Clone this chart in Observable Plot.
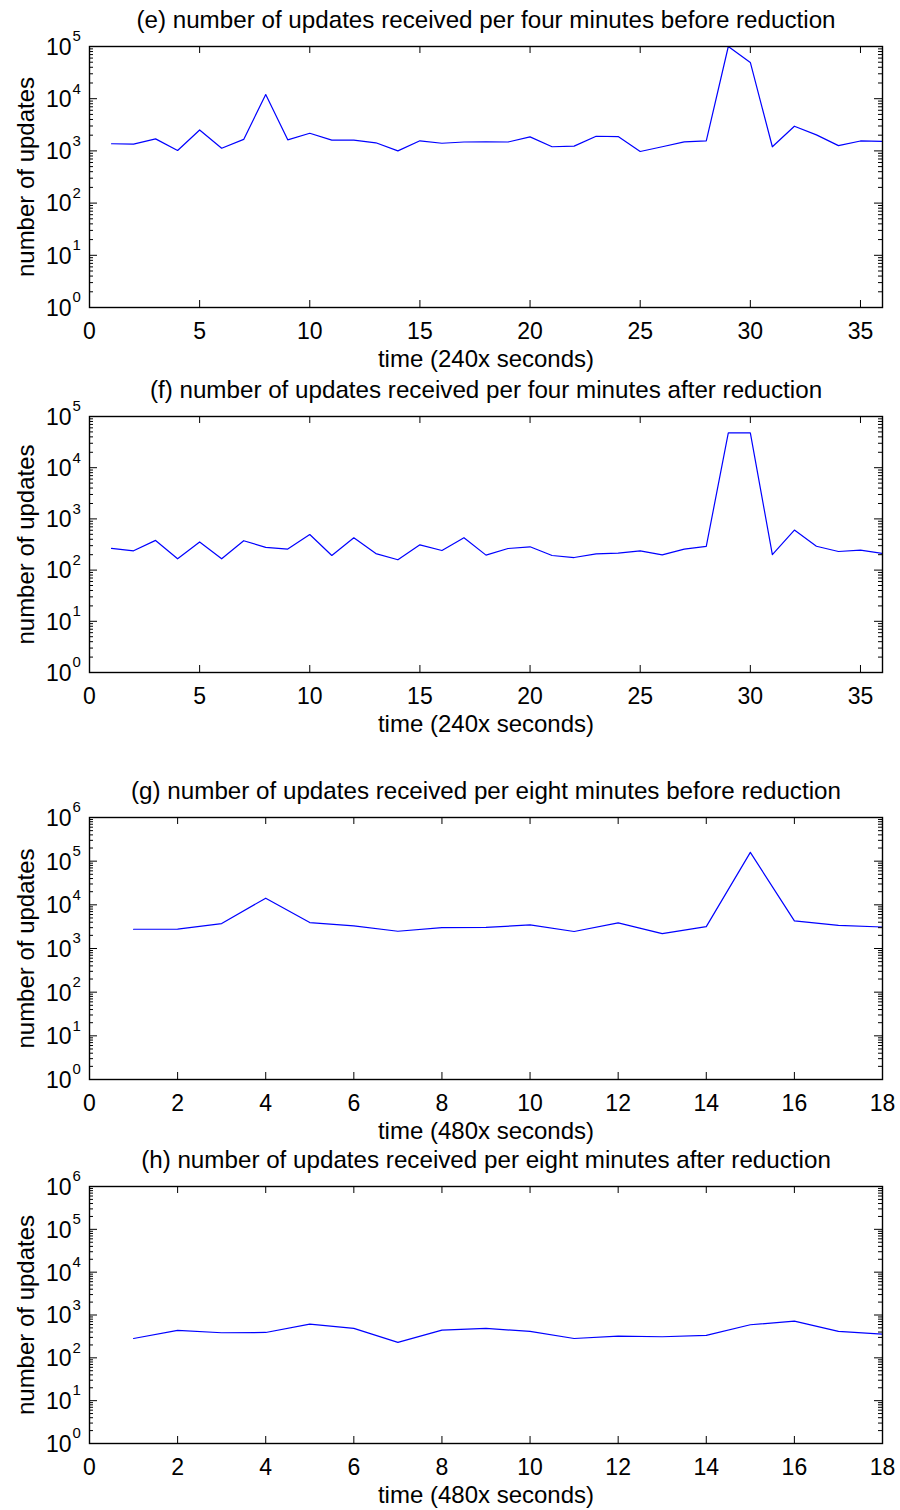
<!DOCTYPE html>
<html><head><meta charset="utf-8">
<script src="https://cdn.jsdelivr.net/npm/d3@7"></script>
<script src="https://cdn.jsdelivr.net/npm/@observablehq/plot@0.6"></script>
<style>
body{margin:0;background:#fff}
#chart{position:relative;width:900px;height:1510px;background:#fff}
#chart svg{position:absolute;left:0}
</style>
</head><body><div id="chart"></div>
<script>
// ---- data ----
const titles = [
  "(e) number of updates received per four minutes before reduction",
  "(f) number of updates received per four minutes after reduction",
  "(g) number of updates received per eight minutes before reduction",
  "(h) number of updates received per eight minutes after reduction"
];
const xLabels = ["time (240x seconds)", "time (240x seconds)", "time (480x seconds)", "time (480x seconds)"];
const yLabel = "number of updates";
const time4 = [1,2,3,4,5,6,7,8,9,10,11,12,13,14,15,16,17,18,19,20,21,22,23,24,25,26,27,28,29,30,31,32,33,34,35,36];
const time8 = [1,2,3,4,5,6,7,8,9,10,11,12,13,14,15,16,17,18];
const updatesE = [1370,1350,1700,1020,2520,1125,1660,12000,1630,2180,1610,1610,1430,1000,1560,1400,1480,1490,1480,1860,1200,1235,1910,1880,975,1200,1490,1550,100000,49500,1200,2970,2030,1260,1550,1520];
const updatesF = [265,238,380,166,355,166,375,277,257,495,193,427,210,159,311,241,430,196,264,285,193,176,207,214,237,199,256,290,48000,48000,201,605,292,231,246,211];
const updatesG = [2760,2780,3730,14200,3930,3300,2480,3020,3040,3470,2450,3870,2190,3170,159000,4280,3400,3100];
const updatesH = [283,436,385,391,612,488,229,444,488,413,283,322,311,333,592,722,413,359];
const xTicks4 = [0,5,10,15,20,25,30,35];
const xTicks8 = [0,2,4,6,8,10,12,14,16,18];
const yExps5 = [0,1,2,3,4,5];
const yExps6 = [0,1,2,3,4,5,6];
const minorMultipliers = [2,3,4,5,6,7,8,9];

// ---- layout ----
const W = 900, ML = 89, MR = 18;
const panels = [
  {top: 0,    height: 375, mt: 46, mb: 68, xs: time4, ys: updatesE, xDomain: [0,36], xTicks: xTicks4, exps: yExps5, title: titles[0], xLabel: xLabels[0]},
  {top: 375,  height: 400, mt: 41, mb: 103, xs: time4, ys: updatesF, xDomain: [0,36], xTicks: xTicks4, exps: yExps5, title: titles[1], xLabel: xLabels[1]},
  {top: 775,  height: 371, mt: 42, mb: 67, xs: time8, ys: updatesG, xDomain: [0,18], xTicks: xTicks8, exps: yExps6, title: titles[2], xLabel: xLabels[2]},
  {top: 1146, height: 364, mt: 40, mb: 67, xs: time8, ys: updatesH, xDomain: [0,18], xTicks: xTicks8, exps: yExps6, title: titles[3], xLabel: xLabels[3]}
];

const font = "'Liberation Sans', Arial, Helvetica, sans-serif";
const chart = document.getElementById("chart");

for (const p of panels) {
  const fh = p.height - p.mt - p.mb;
  const fw = W - ML - MR;
  const majors = p.exps.map(e => 10 ** e);
  const minors = p.exps.slice(0, -1).flatMap(e => minorMultipliers.map(m => m * 10 ** e));
  const data = p.xs.map((x, i) => ({x, y: p.ys[i]}));
  const svg = Plot.plot({
    width: W, height: p.height,
    marginTop: p.mt, marginBottom: p.mb, marginLeft: ML, marginRight: MR,
    x: {domain: p.xDomain, axis: null},
    y: {type: "log", domain: [majors[0], majors[majors.length - 1]], axis: null},
    style: {fontFamily: font, background: "transparent", color: "black"},
    marks: [
      Plot.line(data, {x: "x", y: "y", stroke: "#0000ff", strokeWidth: 1.2, clip: true}),
      Plot.tickX(p.xTicks, {x: d => d, insetTop: fh - 7, stroke: "black", strokeWidth: 1}),
      Plot.tickX(p.xTicks, {x: d => d, insetBottom: fh - 7, stroke: "black", strokeWidth: 1}),
      Plot.tickY(majors, {y: d => d, insetRight: fw - 8, stroke: "black", strokeWidth: 1}),
      Plot.tickY(majors, {y: d => d, insetLeft: fw - 8, stroke: "black", strokeWidth: 1}),
      Plot.tickY(minors, {y: d => d, insetRight: fw - 4, stroke: "black", strokeWidth: 1}),
      Plot.tickY(minors, {y: d => d, insetLeft: fw - 4, stroke: "black", strokeWidth: 1}),
      Plot.frame({stroke: "black", strokeWidth: 1.4}),
      Plot.text(p.xTicks, {x: d => d, text: d => String(d), frameAnchor: "bottom", dy: 31, lineAnchor: "bottom", fontSize: 23, fill: "black"}),
      Plot.text(majors, {y: d => d, text: () => "10", frameAnchor: "left", textAnchor: "end", dx: -18, dy: 1, fontSize: 23, fill: "black"}),
      Plot.text(majors, {y: d => d, text: (d, i) => String(p.exps[i]), frameAnchor: "left", textAnchor: "start", dx: -17, dy: -10, fontSize: 15, fill: "black"}),
      Plot.text([p.title], {text: d => d, frameAnchor: "top", textAnchor: "middle", dy: -19, lineAnchor: "bottom", fontSize: 24.2, fill: "black"}),
      Plot.text([p.xLabel], {text: d => d, frameAnchor: "bottom", textAnchor: "middle", dy: 59, lineAnchor: "bottom", fontSize: 24, fill: "black"}),
      Plot.text([yLabel], {text: d => d, frameAnchor: "left", textAnchor: "middle", rotate: -90, dx: -56, lineAnchor: "bottom", fontSize: 24, fill: "black"})
    ]
  });
  svg.style.top = p.top + "px";
  chart.appendChild(svg);
}
</script>
</body></html>
